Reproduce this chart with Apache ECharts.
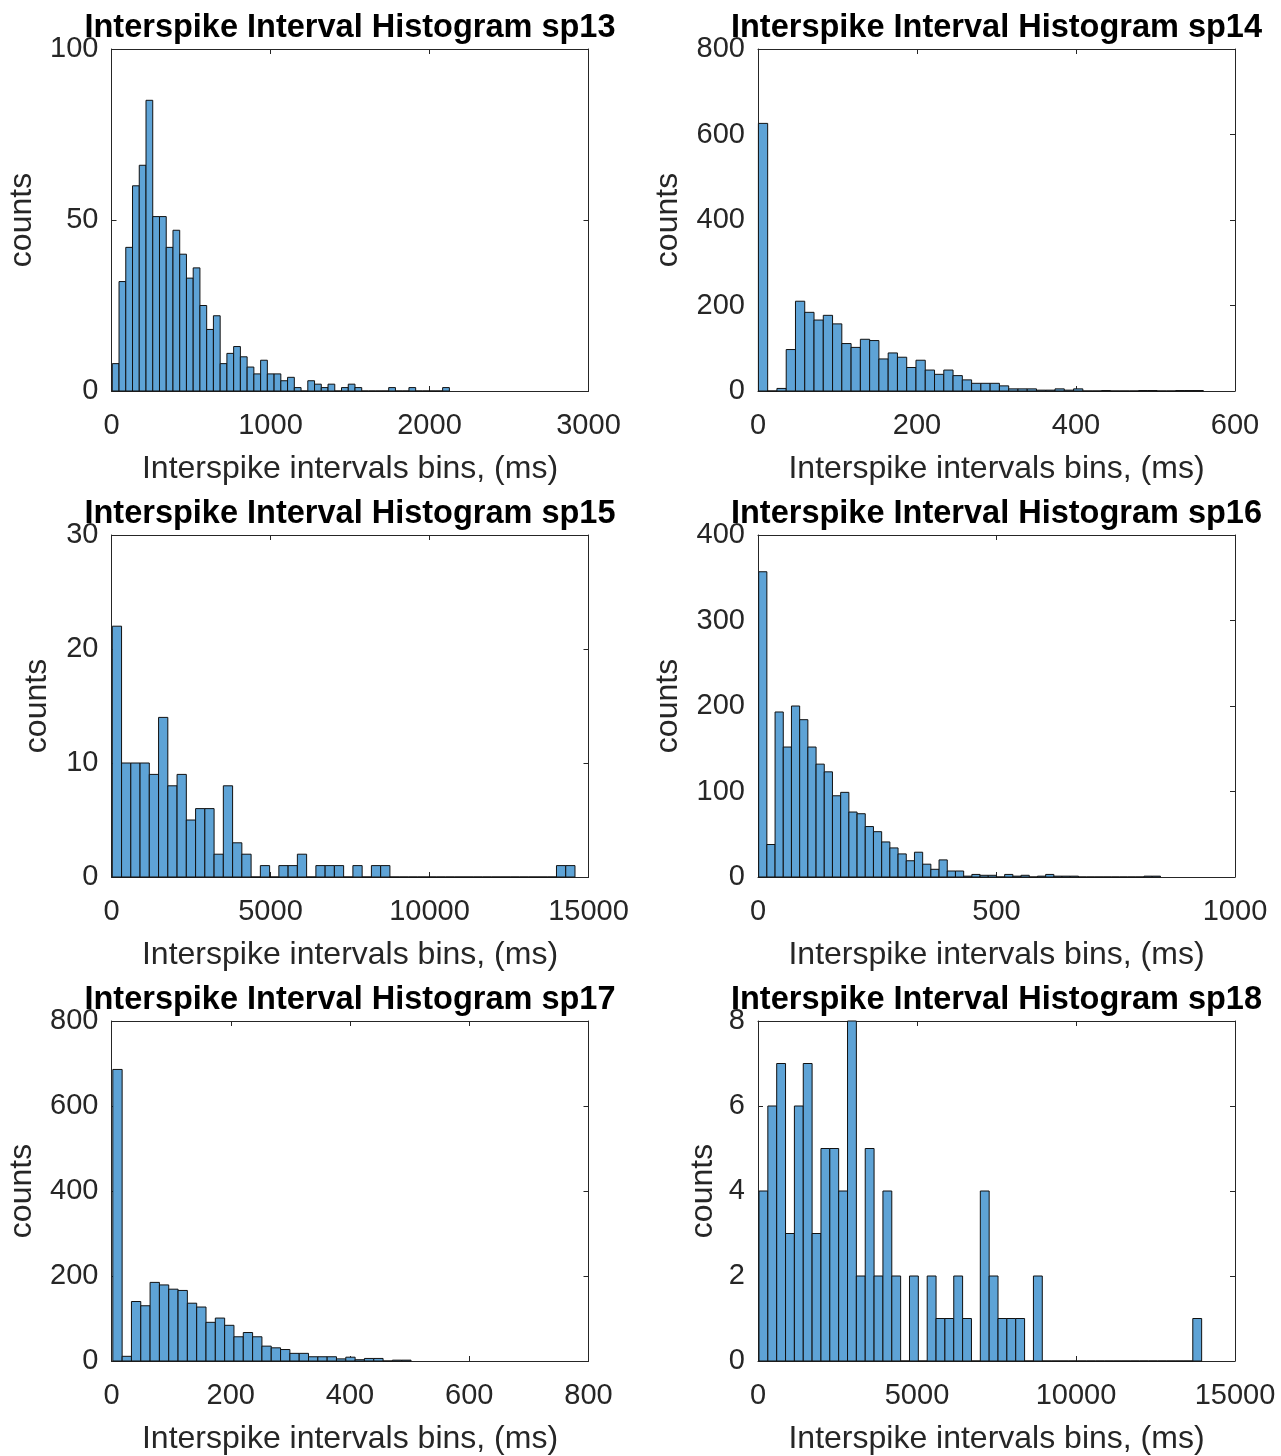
<!DOCTYPE html>
<html><head><meta charset="utf-8">
<script src="https://cdn.jsdelivr.net/npm/echarts@6/dist/echarts.min.js"></script>
<style>html,body{margin:0;padding:0;background:#fff}#c{width:1281px;height:1456px}</style>
</head><body><div id="c"></div><script>
// ---------- DATA ----------
const titles = ['Interspike Interval Histogram sp13','Interspike Interval Histogram sp14','Interspike Interval Histogram sp15','Interspike Interval Histogram sp16','Interspike Interval Histogram sp17','Interspike Interval Histogram sp18'];
const xLabel = 'Interspike intervals bins, (ms)';
const yLabel = 'counts';

const sp13Counts = [8,32,42,60,66,85,51,51,42,47,40,33,36,25,18,22,8,11,13,10,7,5,9,5,5,3,4,1,0,3,2,1,2,0,1,2,1,0,0,0,0,1,0,0,1,0,0,0,0,1];
const sp13BinStart = 5, sp13BinWidth = 42.4;
const sp13XTicks = [0,1000,2000,3000], sp13YTicks = [0,50,100];

const sp14Counts = [626,0,6,97,210,184,166,177,157,111,102,121,118,75,89,79,55,72,49,39,49,36,26,18,18,18,12,5,5,5,2,2,5,2,5,0,0,1,0,0,0,1,1,0,0,1,1,1];
const sp14BinStart = 0.5, sp14BinWidth = 11.66;
const sp14XTicks = [0,200,400,600], sp14YTicks = [0,200,400,600,800];

const sp15Counts = [22,10,10,10,9,14,8,9,5,6,6,2,8,3,2,0,1,0,1,1,2,0,1,1,1,0,1,0,1,1,0,0,0,0,0,0,0,0,0,0,0,0,0,0,0,0,0,0,1,1];
const sp15BinStart = 25, sp15BinWidth = 291;
const sp15XTicks = [0,5000,10000,15000], sp15YTicks = [0,10,20,30];

const sp16Counts = [357,38,193,152,200,184,152,132,123,95,99,76,74,59,53,41,34,27,19,29,15,9,20,7,7,1,3,2,2,0,3,1,2,0,1,3,1,1,1,0,0,0,0,0,0,0,0,1,1];
const sp16BinStart = 1.4, sp16BinWidth = 17.19;
const sp16XTicks = [0,500,1000], sp16YTicks = [0,100,200,300,400];

const sp17Counts = [686,11,140,130,185,179,169,166,136,127,91,101,84,57,67,57,35,31,27,18,18,10,10,10,5,9,3,6,6,0,2,2];
const sp17BinStart = 2.2, sp17BinWidth = 15.63;
const sp17XTicks = [0,200,400,600,800], sp17YTicks = [0,200,400,600,800];

const sp18Counts = [4,6,7,3,6,7,3,5,5,4,8,2,5,2,4,2,0,2,0,2,1,1,2,1,0,4,2,1,1,1,0,2,0,0,0,0,0,0,0,0,0,0,0,0,0,0,0,0,0,1];
const sp18BinStart = 31, sp18BinWidth = 278.4;
const sp18XTicks = [0,5000,10000,15000], sp18YTicks = [0,2,4,6,8];

const panelData = [
  {counts: sp13Counts, start: sp13BinStart, width: sp13BinWidth, xTicks: sp13XTicks, yTicks: sp13YTicks},
  {counts: sp14Counts, start: sp14BinStart, width: sp14BinWidth, xTicks: sp14XTicks, yTicks: sp14YTicks},
  {counts: sp15Counts, start: sp15BinStart, width: sp15BinWidth, xTicks: sp15XTicks, yTicks: sp15YTicks},
  {counts: sp16Counts, start: sp16BinStart, width: sp16BinWidth, xTicks: sp16XTicks, yTicks: sp16YTicks},
  {counts: sp17Counts, start: sp17BinStart, width: sp17BinWidth, xTicks: sp17XTicks, yTicks: sp17YTicks},
  {counts: sp18Counts, start: sp18BinStart, width: sp18BinWidth, xTicks: sp18XTicks, yTicks: sp18YTicks}
];

// ---------- LAYOUT / STYLE ----------
const FONT = '"Liberation Sans", Arial, Helvetica, sans-serif';
const AX = '#262626';
const BAR_FILL = '#5ea3d6';
const colLeft = [111.5, 758];
const rowTop = [49, 535, 1021];
const plotW = 477, plotH = 342;
const yNameGaps = [73, 74, 58, 74, 73, 39];

const grid = [], xAxis = [], yAxis = [], series = [], title = [];

panelData.forEach((p, i) => {
  const col = i % 2, row = Math.floor(i / 2);
  const left = colLeft[col], top = rowTop[row];
  grid.push({left: left, top: top, width: plotW, height: plotH, containLabel: false});
  const xMin = p.xTicks[0], xMax = p.xTicks[p.xTicks.length - 1], xInt = p.xTicks[1] - p.xTicks[0];
  const yMin = p.yTicks[0], yMax = p.yTicks[p.yTicks.length - 1], yInt = p.yTicks[1] - p.yTicks[0];
  const line = {show: true, onZero: false, lineStyle: {color: AX, width: 1}};
  const tick = {show: true, inside: true, length: 5, lineStyle: {color: AX, width: 1}};
  xAxis.push({
    gridIndex: i, type: 'value', position: 'bottom', min: xMin, max: xMax, interval: xInt,
    axisLine: line, axisTick: tick, splitLine: {show: false},
    axisLabel: {color: AX, fontSize: 29, fontFamily: FONT, margin: 20, formatter: v => String(v)},
    name: xLabel, nameLocation: 'middle', nameGap: 62,
    nameTextStyle: {color: AX, fontSize: 32, fontFamily: FONT}
  });
  xAxis.push({
    gridIndex: i, type: 'value', position: 'top', min: xMin, max: xMax, interval: xInt,
    axisLine: line, axisTick: tick, splitLine: {show: false}, axisLabel: {show: false}
  });
  yAxis.push({
    gridIndex: i, type: 'value', position: 'left', min: yMin, max: yMax, interval: yInt,
    axisLine: line, axisTick: tick, splitLine: {show: false},
    axisLabel: {color: AX, fontSize: 29, fontFamily: FONT, margin: 13, formatter: v => String(v)},
    name: yLabel, nameLocation: 'middle', nameGap: yNameGaps[i],
    nameTextStyle: {color: AX, fontSize: 32, fontFamily: FONT}
  });
  yAxis.push({
    gridIndex: i, type: 'value', position: 'right', min: yMin, max: yMax, interval: yInt,
    axisLine: line, axisTick: tick, splitLine: {show: false}, axisLabel: {show: false}
  });
  title.push({
    text: titles[i], left: left + plotW / 2, top: top - 37, textAlign: 'center', padding: 0,
    textStyle: {color: '#000', fontSize: 32.5, fontWeight: 'bold', fontFamily: FONT}
  });
  const rows = p.counts.map((c, k) => [p.start + k * p.width, p.start + (k + 1) * p.width, c]);
  series.push({
    type: 'custom', xAxisIndex: 2 * i, yAxisIndex: 2 * i, data: rows, clip: false,
    encode: {x: [0, 1], y: 2},
    renderItem: function (params, api) {
      const a = api.coord([api.value(0), 0]);
      const b = api.coord([api.value(1), api.value(2)]);
      return {
        type: 'rect',
        shape: {x: a[0], y: b[1], width: b[0] - a[0], height: a[1] - b[1]},
        style: {fill: BAR_FILL, stroke: '#111', lineWidth: 1}
      };
    }
  });
});

const chart = echarts.init(document.getElementById('c'), null, {renderer: 'canvas'});
chart.setOption({animation: false, backgroundColor: '#fff', title, grid, xAxis, yAxis, series});
</script></body></html>
